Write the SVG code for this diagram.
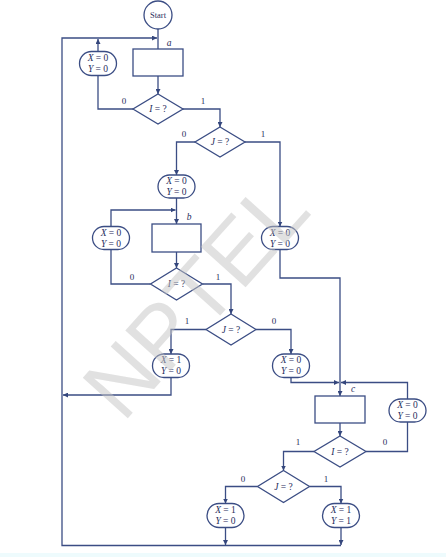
<svg xmlns="http://www.w3.org/2000/svg" width="446" height="557" viewBox="0 0 446 557">
<defs>
<marker id="ah" viewBox="0 0 6 6" refX="6" refY="3" markerWidth="5" markerHeight="5" markerUnits="userSpaceOnUse" orient="auto">
<path d="M0,0 L6,3 L0,6 z" fill="#34467c"/>
</marker>
<style>
.ln{fill:none;stroke:#3b4d84;stroke-width:1.3}
.ar{marker-end:url(#ah)}
.shp{fill:#ffffff;stroke:#3b4d84;stroke-width:1.3}
.t{font-family:"Liberation Serif","Times New Roman",serif;font-size:9.5px;fill:#1f2d5c;text-anchor:middle}
.i{font-style:italic}
.lb{font-family:"Liberation Serif","Times New Roman",serif;font-size:9px;fill:#1f2d5c;text-anchor:middle}
.wm{font-family:"Liberation Sans",Arial,sans-serif;font-size:88px;fill:#c4c4c4;fill-opacity:0.5;text-anchor:middle}
</style>
</defs>
<rect x="0" y="0" width="446" height="557" fill="#ffffff"/>
<rect x="0" y="553" width="446" height="4" fill="#eefbfd"/>

<g id="connectors">
<path class="ln ar" d="M341,545.5 H62 V38 H157"/>
<path class="ln" d="M158,29 V49"/>
<path class="ln ar" d="M158,76 V94"/>
<path class="ln" d="M133,109 H98 V75.5"/>
<path class="ln ar" d="M98,51.5 V39"/>
<path class="ln ar" d="M183,109 H220 V127"/>
<path class="ln ar" d="M195,142 H176.5 V175"/>
<path class="ln ar" d="M176.5,198 V224"/>
<path class="ln ar" d="M245,142 H280 V226.5"/>
<path class="ln ar" d="M280,249.5 V278 H340 V396"/>
<path class="ln ar" d="M111,226.5 V210 H175.5"/>
<path class="ln ar" d="M176.5,252 V268"/>
<path class="ln" d="M150.5,284 H111 V249.5"/>
<path class="ln ar" d="M202.5,284 H231 V314"/>
<path class="ln ar" d="M206,329.5 H171 V354"/>
<path class="ln ar" d="M256,329.5 H291 V354"/>
<path class="ln ar" d="M171,377.5 V395 H63"/>
<path class="ln ar" d="M291,377.5 V382.5 H339"/>
<path class="ln ar" d="M407.5,399 V382.5 H341"/>
<path class="ln ar" d="M340,423 V436"/>
<path class="ln ar" d="M314,451.5 H283.5 V470.5"/>
<path class="ln" d="M366,451.5 H407.5 V422"/>
<path class="ln ar" d="M257.5,486.5 H225.5 V503.5"/>
<path class="ln ar" d="M309.5,486.5 H341 V503.5"/>
<path class="ln ar" d="M225.5,527.5 V545"/>
<path class="ln ar" d="M341,527.5 V545"/>
<text class="lb" x="124" y="104">0</text>
<text class="lb" x="203" y="104">1</text>
<text class="lb" x="184" y="137">0</text>
<text class="lb" x="263" y="137">1</text>
<text class="lb" x="132" y="280">0</text>
<text class="lb" x="218" y="280">1</text>
<text class="lb" x="187" y="324">1</text>
<text class="lb" x="274" y="324">0</text>
<text class="lb" x="298" y="445">1</text>
<text class="lb" x="385" y="445">0</text>
<text class="lb" x="243" y="482">0</text>
<text class="lb" x="326" y="482">1</text>
</g>

<g id="start">
<circle class="shp" cx="158" cy="15" r="14"/>
<text class="t" x="158" y="18" style="font-size:8.5px">Start</text>
</g>

<g id="boxA">
<rect class="shp" x="133" y="49" width="50" height="27"/>
<text class="t i" x="169" y="46">a</text>
</g>

<g id="dec1">
<polygon class="shp" points="158,94 183,109 158,124 133,109"/>
<text class="t" x="158" y="112"><tspan class="i">I</tspan> = ?</text>
</g>

<g id="oval1">
<rect class="shp" x="79.5" y="51.5" width="37" height="24" rx="12"/>
<text class="t" x="98" y="61"><tspan class="i">X</tspan> = 0</text>
<text class="t" x="98" y="72"><tspan class="i">Y</tspan> = 0</text>
</g>

<g id="dec2">
<polygon class="shp" points="220,127 245,142 220,157 195,142"/>
<text class="t" x="220" y="145"><tspan class="i">J</tspan> = ?</text>
</g>

<g id="oval2">
<rect class="shp" x="158" y="175" width="37" height="23" rx="11.5"/>
<text class="t" x="176.5" y="184"><tspan class="i">X</tspan> = 0</text>
<text class="t" x="176.5" y="195"><tspan class="i">Y</tspan> = 0</text>
</g>

<g id="boxB">
<rect class="shp" x="152" y="224" width="49" height="28"/>
<text class="t i" x="189" y="220">b</text>
</g>

<g id="oval3">
<rect class="shp" x="92.5" y="226.5" width="37" height="23" rx="11.5"/>
<text class="t" x="111" y="235.5"><tspan class="i">X</tspan> = 0</text>
<text class="t" x="111" y="246.5"><tspan class="i">Y</tspan> = 0</text>
</g>

<g id="oval4">
<rect class="shp" x="261.5" y="226.5" width="37" height="23" rx="11.5"/>
<text class="t" x="280" y="235.5"><tspan class="i">X</tspan> = 0</text>
<text class="t" x="280" y="246.5"><tspan class="i">Y</tspan> = 0</text>
</g>

<g id="dec3">
<polygon class="shp" points="176.5,268 202.5,284 176.5,300 150.5,284"/>
<text class="t" x="176.5" y="287"><tspan class="i">I</tspan> = ?</text>
</g>

<g id="dec4">
<polygon class="shp" points="231,314 256,329.5 231,345 206,329.5"/>
<text class="t" x="231" y="332.5"><tspan class="i">J</tspan> = ?</text>
</g>

<g id="oval5">
<rect class="shp" x="152.5" y="354" width="37" height="23.5" rx="11.5"/>
<text class="t" x="171" y="363"><tspan class="i">X</tspan> = 1</text>
<text class="t" x="171" y="374"><tspan class="i">Y</tspan> = 0</text>
</g>

<g id="oval6">
<rect class="shp" x="272.5" y="354" width="37" height="23.5" rx="11.5"/>
<text class="t" x="291" y="363"><tspan class="i">X</tspan> = 0</text>
<text class="t" x="291" y="374"><tspan class="i">Y</tspan> = 0</text>
</g>

<g id="boxC">
<rect class="shp" x="315" y="396" width="50" height="27"/>
<text class="t i" x="353" y="392">c</text>
</g>

<g id="oval7">
<rect class="shp" x="389" y="399" width="37" height="23" rx="11.5"/>
<text class="t" x="407.5" y="408"><tspan class="i">X</tspan> = 0</text>
<text class="t" x="407.5" y="419"><tspan class="i">Y</tspan> = 0</text>
</g>

<g id="dec5">
<polygon class="shp" points="340,436 366,451.5 340,467 314,451.5"/>
<text class="t" x="340" y="454.5"><tspan class="i">I</tspan> = ?</text>
</g>

<g id="dec6">
<polygon class="shp" points="283.5,470.5 309.5,486.5 283.5,502.5 257.5,486.5"/>
<text class="t" x="283.5" y="489.5"><tspan class="i">J</tspan> = ?</text>
</g>

<g id="oval8">
<rect class="shp" x="207" y="503.5" width="37" height="24" rx="12"/>
<text class="t" x="225.5" y="513"><tspan class="i">X</tspan> = 1</text>
<text class="t" x="225.5" y="524"><tspan class="i">Y</tspan> = 0</text>
</g>

<g id="oval9">
<rect class="shp" x="322.5" y="503.5" width="37" height="24" rx="12"/>
<text class="t" x="341" y="513"><tspan class="i">X</tspan> = 1</text>
<text class="t" x="341" y="524"><tspan class="i">Y</tspan> = 1</text>
</g>

<g id="watermark">
<text class="wm" x="218" y="318" transform="rotate(-48 218 318)">NPTEL</text>
</g>
</svg>
